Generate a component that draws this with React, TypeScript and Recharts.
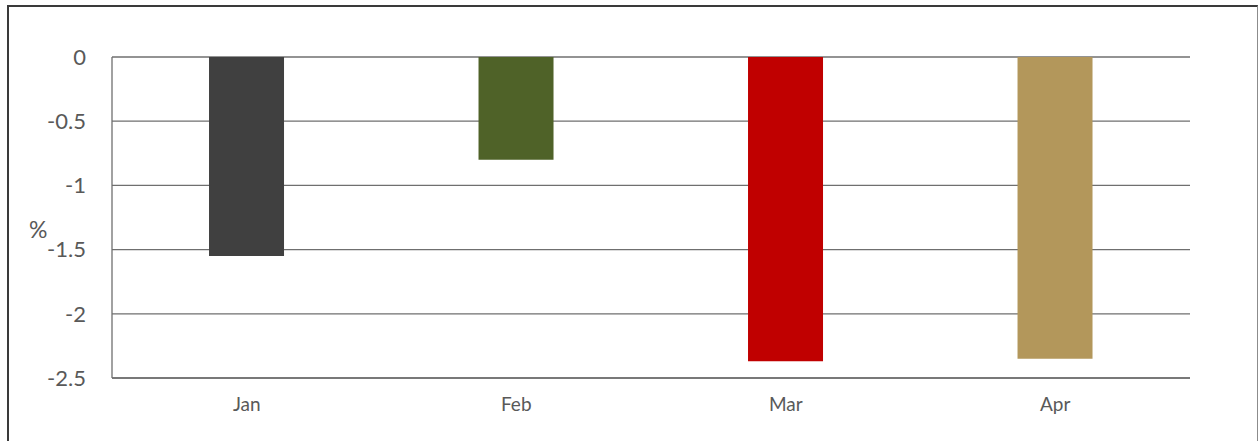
import React from "react";
import {
  BarChart,
  Bar,
  Cell,
  XAxis,
  YAxis,
  CartesianGrid,
} from "recharts";

const months = ["Jan", "Feb", "Mar", "Apr"];
const changes = [-1.55, -0.8, -2.37, -2.35];
const barColors = ["#404040", "#4F6228", "#C00000", "#B3975B"];
const yTicks = [0, -0.5, -1, -1.5, -2, -2.5];

const data = months.map((month, i) => ({ month, value: changes[i] }));

const FONT = "Lato, 'Open Sans', sans-serif";

const App: React.FC = () => {
  return (
    <div
      style={{
        position: "absolute",
        top: 0,
        left: 0,
        width: 1260,
        height: 441,
        overflow: "hidden",
        background: "#fff",
      }}
    >
      <div
        style={{
          position: "absolute",
          top: 5,
          left: 7,
          width: 1251,
          height: 450,
          borderTop: "2px solid #3a3a3a",
          borderLeft: "2px solid #3a3a3a",
          borderRight: "1px solid #8c8c8c",
          boxSizing: "border-box",
        }}
      />
      <div style={{ position: "absolute", top: 0, left: 0 }}>
        <BarChart
          width={1260}
          height={441}
          data={data}
          margin={{ top: 57, right: 70, bottom: 33, left: 0 }}
          barCategoryGap="36%"
        >
          <CartesianGrid vertical={false} stroke="#6f6f6f" strokeWidth={1.3} />
          <XAxis
            dataKey="month"
            axisLine={{ stroke: "#6f6f6f", strokeWidth: 1.3 }}
            tickLine={false}
            tickMargin={14}
            height={30}
            tick={{ fill: "#595959", fontSize: 19, fontFamily: FONT }}
          />
          <YAxis
            width={112}
            domain={[-2.5, 0]}
            ticks={yTicks}
            interval={0}
            axisLine={{ stroke: "#6f6f6f", strokeWidth: 1.3 }}
            tickLine={false}
            tickMargin={20}
            tick={{ fill: "#595959", fontSize: 22, fontFamily: FONT }}
            label={{
              value: "%",
              position: "insideLeft",
              offset: 29,
              dy: 12,
              fill: "#595959",
              fontSize: 23,
              fontFamily: FONT,
            }}
          />
          <Bar dataKey="value" isAnimationActive={false}>
            {data.map((entry, index) => (
              <Cell key={`cell-${entry.month}`} fill={barColors[index]} />
            ))}
          </Bar>
        </BarChart>
      </div>
    </div>
  );
};

export default App;
